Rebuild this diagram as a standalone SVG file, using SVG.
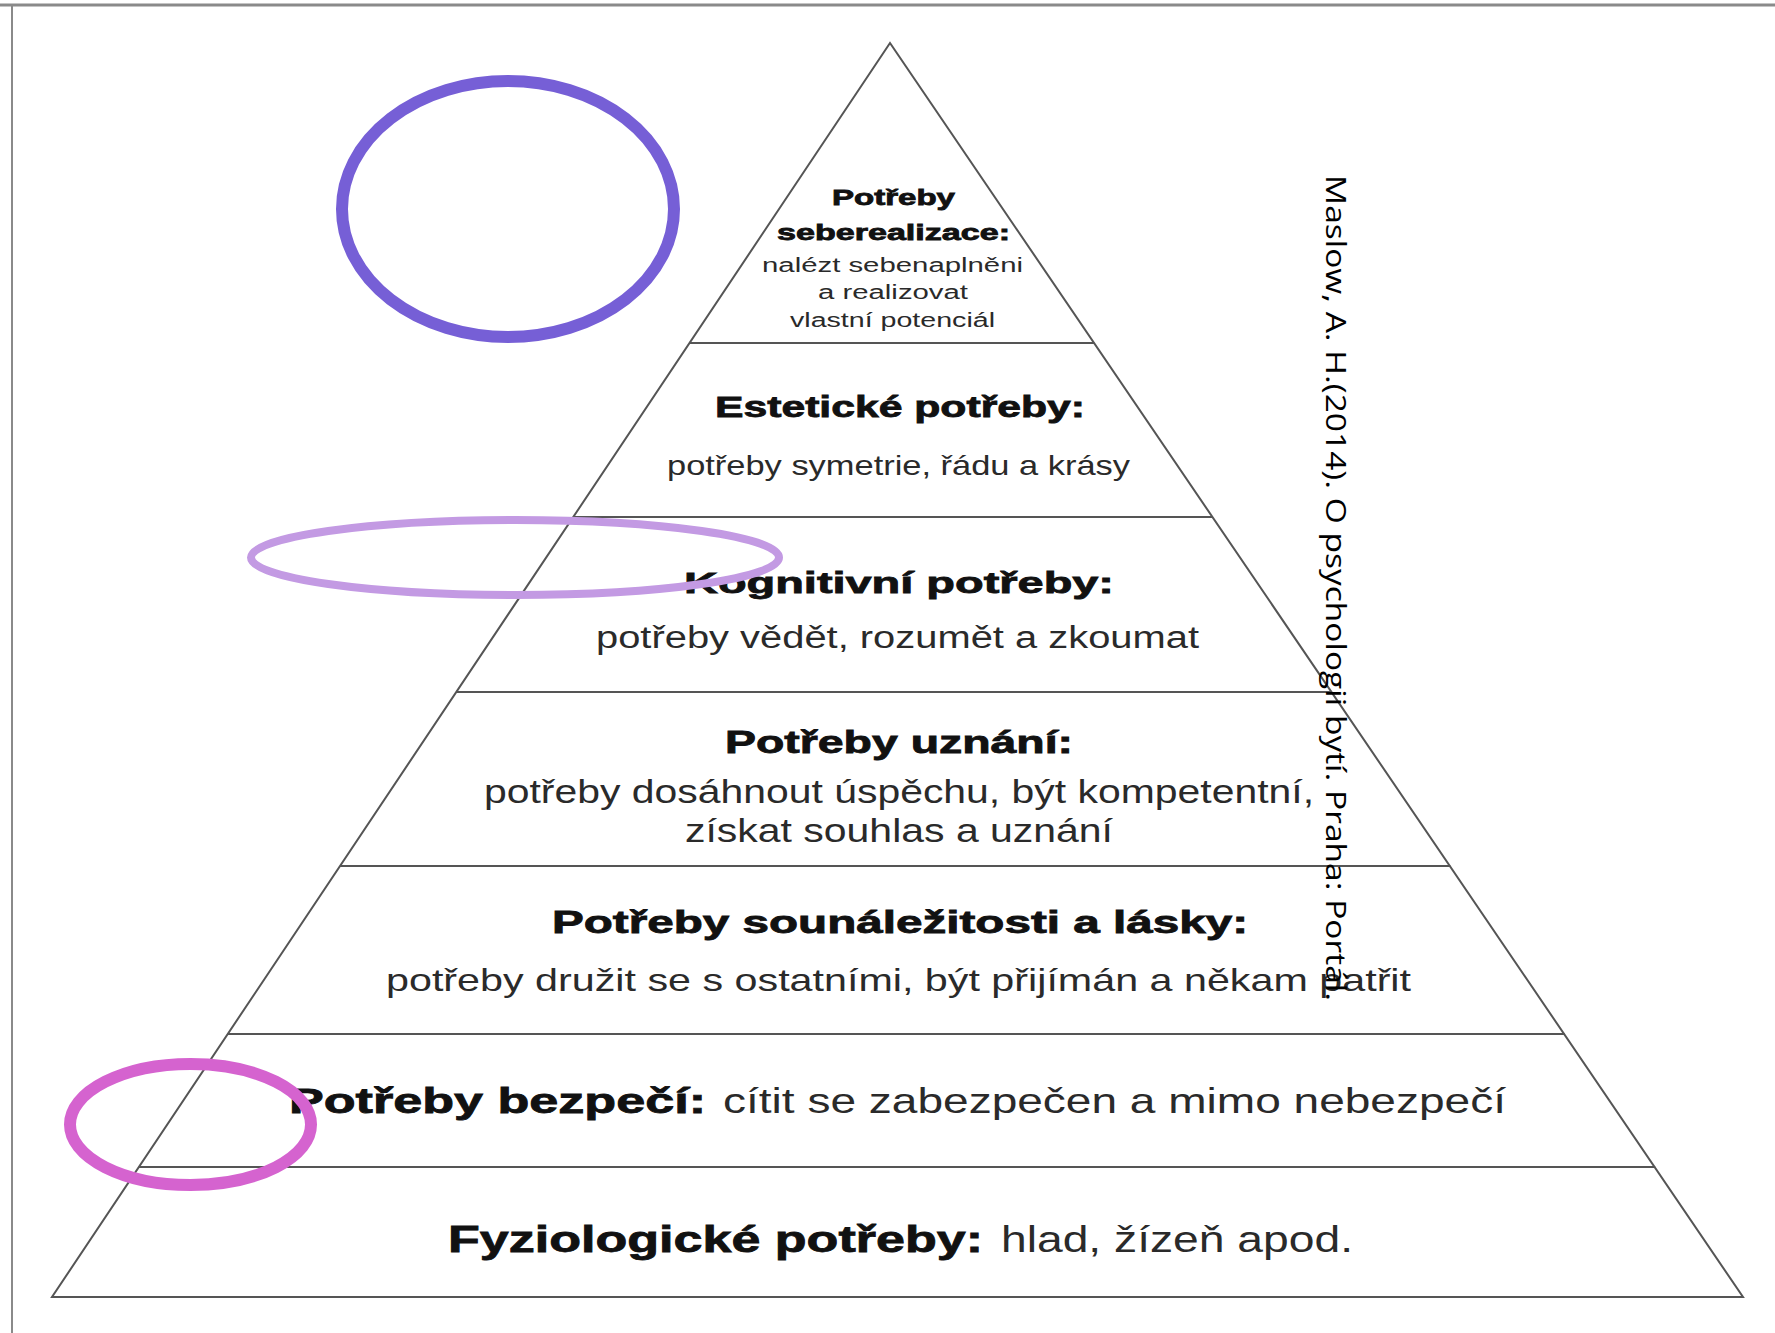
<svg xmlns="http://www.w3.org/2000/svg" width="1775" height="1333" viewBox="0 0 1775 1333">
<style>
.frame{stroke:#8a8a8a;fill:none}
.edge{stroke:#555;stroke-width:2;fill:none}
.b{font-family:"Liberation Sans",Arial,sans-serif;font-weight:bold;fill:#111;stroke:#111;stroke-width:0.8}
.r{font-family:"Liberation Sans",Arial,sans-serif;fill:#2a2a2a}
.cite{font-family:"Open Sans","Noto Sans",sans-serif;fill:#000}
.ring{fill:none}
</style>
<rect x="0" y="0" width="1775" height="1333" fill="#ffffff"/>
<g id="frame">
<line class="frame" x1="0" y1="5" x2="1775" y2="5" stroke-width="3"/>
<line class="frame" x1="12" y1="5" x2="12" y2="1333" stroke-width="2"/>
</g>
<g id="connectors">
<polygon class="edge" points="890,43 52,1297 1743,1297"/>
<line class="edge" x1="689.5" y1="343" x2="1094.2" y2="343"/>
<line class="edge" x1="573.2" y1="517" x2="1212.7" y2="517"/>
<line class="edge" x1="456.3" y1="692" x2="1331.8" y2="692"/>
<line class="edge" x1="340" y1="866" x2="1450.3" y2="866"/>
<line class="edge" x1="227.8" y1="1034" x2="1564.6" y2="1034"/>
<line class="edge" x1="138.9" y1="1167" x2="1655.2" y2="1167"/>
</g>
<g id="tier-seberealizace">
<text class="b" x="832" y="205" font-size="22" textLength="123" lengthAdjust="spacingAndGlyphs">Potřeby</text>
<text class="b" x="777" y="240" font-size="22" textLength="233" lengthAdjust="spacingAndGlyphs">seberealizace:</text>
<text class="r" x="762" y="272" font-size="20" textLength="261" lengthAdjust="spacingAndGlyphs">nalézt sebenaplněni</text>
<text class="r" x="818" y="299" font-size="20" textLength="150" lengthAdjust="spacingAndGlyphs">a realizovat</text>
<text class="r" x="790" y="327" font-size="20" textLength="205" lengthAdjust="spacingAndGlyphs">vlastní potenciál</text>
</g>
<g id="tier-esteticke">
<text class="b" x="715" y="417" font-size="29" textLength="370" lengthAdjust="spacingAndGlyphs">Estetické potřeby:</text>
<text class="r" x="667" y="475" font-size="28" textLength="463" lengthAdjust="spacingAndGlyphs">potřeby symetrie, řádu a krásy</text>
</g>
<g id="tier-kognitivni">
<text class="b" x="684" y="593" font-size="30" textLength="430" lengthAdjust="spacingAndGlyphs">Kognitivní potřeby:</text>
<text class="r" x="596" y="648" font-size="31" textLength="603" lengthAdjust="spacingAndGlyphs">potřeby vědět, rozumět a zkoumat</text>
</g>
<g id="tier-uznani">
<text class="b" x="725" y="753" font-size="31" textLength="348" lengthAdjust="spacingAndGlyphs">Potřeby uznání:</text>
<text class="r" x="484" y="803" font-size="33" textLength="830" lengthAdjust="spacingAndGlyphs">potřeby dosáhnout úspěchu, být kompetentní,</text>
<text class="r" x="685" y="842" font-size="33" textLength="428" lengthAdjust="spacingAndGlyphs">získat souhlas a uznání</text>
</g>
<g id="tier-sounalezitost">
<text class="b" x="552" y="933" font-size="31" textLength="696" lengthAdjust="spacingAndGlyphs">Potřeby sounáležitosti a lásky:</text>
<text class="r" x="386" y="991" font-size="32" textLength="1025" lengthAdjust="spacingAndGlyphs">potřeby družit se s ostatními, být přijímán a někam patřit</text>
</g>
<g id="tier-bezpeci">
<text class="b" x="289" y="1113" font-size="35" textLength="417" lengthAdjust="spacingAndGlyphs">Potřeby bezpečí:</text>
<text class="r" x="723" y="1113" font-size="35" textLength="783" lengthAdjust="spacingAndGlyphs">cítit se zabezpečen a mimo nebezpečí</text>
</g>
<g id="tier-fyziologicke">
<text class="b" x="448" y="1252" font-size="37" textLength="535" lengthAdjust="spacingAndGlyphs">Fyziologické potřeby:</text>
<text class="r" x="1001" y="1252" font-size="37" textLength="352" lengthAdjust="spacingAndGlyphs">hlad, žízeň apod.</text>
</g>
<g id="citation">
<text class="cite" transform="translate(1326,175) rotate(90)" x="0" y="0" font-size="28" textLength="826" lengthAdjust="spacingAndGlyphs">Maslow, A. H.(2014). O psychologii bytí. Praha: Portál.</text>
</g>
<g id="highlights">
<ellipse class="ring" cx="508" cy="209" rx="166" ry="128" stroke="#765FD6" stroke-width="12"/>
<ellipse class="ring" cx="515" cy="557.5" rx="264" ry="37.5" stroke="#C39AE3" stroke-width="8"/>
<ellipse class="ring" cx="190.5" cy="1124.5" rx="120.5" ry="60.5" stroke="#D563CF" stroke-width="12"/>
</g>
</svg>
